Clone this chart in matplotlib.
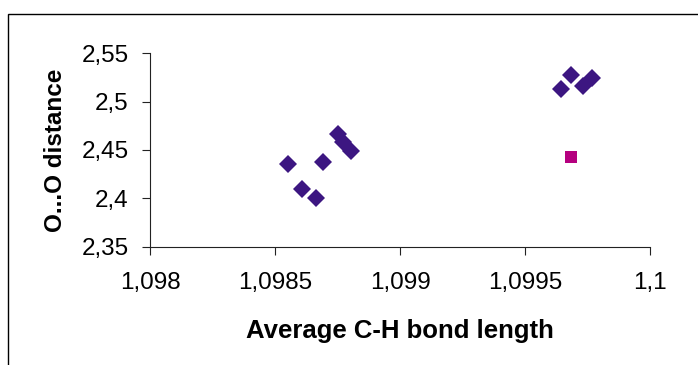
import numpy as np
import matplotlib
matplotlib.use('Agg')
import matplotlib.pyplot as plt
from matplotlib.patches import Rectangle
from matplotlib.ticker import FuncFormatter

# data
ch_length = [1.098553, 1.098607, 1.098663, 1.098693, 1.098753, 1.098773,
             1.098804, 1.099643, 1.099683, 1.099733, 1.099769]
oo_dist = [2.436, 2.410, 2.400, 2.438, 2.4665, 2.4586,
           2.449, 2.5134, 2.5279, 2.5162, 2.5248]
ch_single = [1.099683]
oo_single = [2.4424]

x_ticks = [1.098, 1.0985, 1.099, 1.0995, 1.1]
y_ticks = [2.35, 2.4, 2.45, 2.5, 2.55]

plt.rc('font', family='Liberation Sans')
ref_font_size = 17.5

fig = plt.figure(figsize=(6.98, 3.65), dpi=100)
ax = fig.add_axes([150/698, 1-246.7/365, 500/698, 193.4/365])

# outer chart border (cut off on right and bottom)
fig.patches.append(Rectangle((8/698, -0.1), 1.2, 1-14/365+0.1,
                             transform=fig.transFigure, fill=False,
                             edgecolor='k', linewidth=1.0))

ax.plot(ch_length, oo_dist, linestyle='none', marker='D', markersize=8.8,
        color='#3c1681', markeredgewidth=0)
ax.plot(ch_single, oo_single, linestyle='none', marker='s', markersize=9.2,
        color='#b5007f', markeredgewidth=0)

ax.set_xlim(x_ticks[0], x_ticks[-1])
ax.set_ylim(y_ticks[0], y_ticks[-1])
ax.set_xticks(x_ticks)
ax.set_yticks(y_ticks)

def comma_fmt(v, pos):
    s = f'{v:.4f}'.rstrip('0').rstrip('.')
    return s.replace('.', ',')

ax.xaxis.set_major_formatter(FuncFormatter(comma_fmt))
ax.yaxis.set_major_formatter(FuncFormatter(comma_fmt))

for side in ('top', 'right'):
    ax.spines[side].set_visible(False)
for side in ('left', 'bottom'):
    ax.spines[side].set_linewidth(0.8)
    ax.spines[side].set_color('#222222')

ax.tick_params(axis='both', direction='out', length=5.5, width=0.8,
               labelsize=ref_font_size, color='#222222')
ax.tick_params(axis='y', pad=10)
ax.tick_params(axis='x', pad=13)

ax.set_xlabel('Average C-H bond length', fontsize=18.5,
              fontweight='bold', labelpad=18)
ax.set_ylabel('O...O distance', fontsize=ref_font_size,
              fontweight='bold', labelpad=10)

fig.savefig('out.png', dpi=100)
